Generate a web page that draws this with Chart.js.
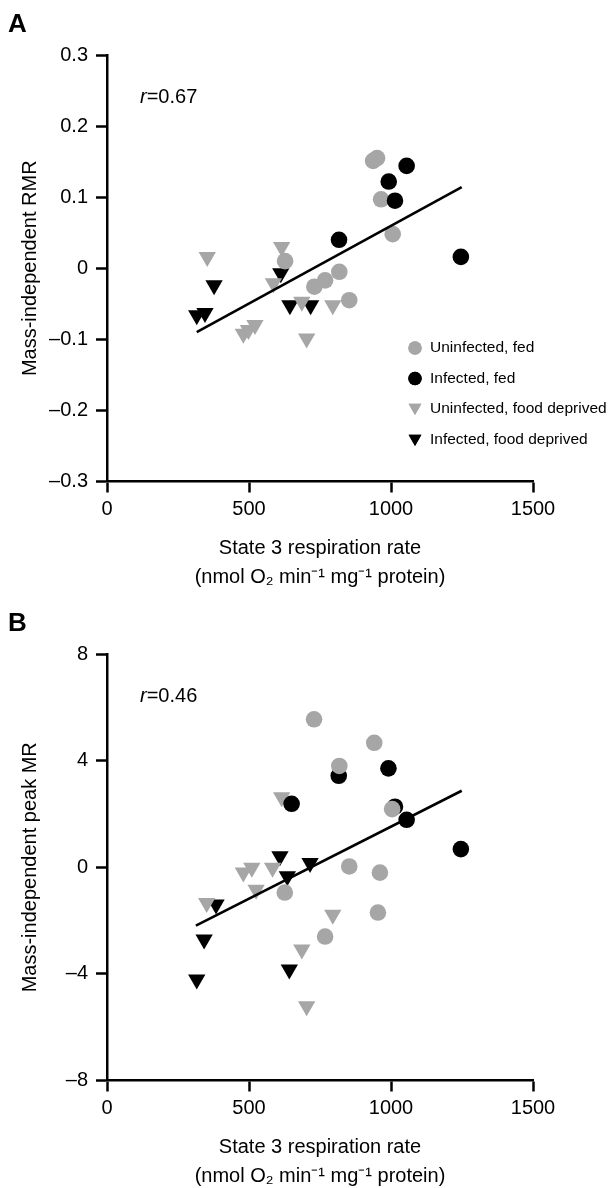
<!DOCTYPE html>
<html>
<head>
<meta charset="utf-8">
<script src="https://cdn.jsdelivr.net/npm/chart.js@4.4.1/dist/chart.umd.min.js"></script>
<style>
  html, body { margin: 0; padding: 0; background: #ffffff; }
  #wrap { position: relative; width: 613px; height: 1188px; overflow: hidden; }
  .panel { position: absolute; left: 0; width: 613px; height: 600px; }
</style>
</head>
<body>
<div id="wrap">
  <div class="panel" style="top:0px"><canvas id="chartA" width="613" height="600"></canvas></div>
  <div class="panel" style="top:599px"><canvas id="chartB" width="613" height="600"></canvas></div>
</div>
<script>
// ---------- Data ----------
const seriesNames = ['Uninfected, fed', 'Infected, fed', 'Uninfected, food deprived', 'Infected, food deprived'];

const xTicks = [0, 500, 1000, 1500];
const yTicksA = [-0.3, -0.2, -0.1, 0, 0.1, 0.2, 0.3];
const yTicksB = [-8, -4, 0, 4, 8];

const xTitle = ['State 3 respiration rate', '(nmol O\u2082 min\u207B\u00B9 mg\u207B\u00B9 protein)'];
const yTitleA = 'Mass-independent RMR';
const yTitleB = 'Mass-independent peak MR';
const rA = '0.67';
const rB = '0.46';

// Panel A
const aUninfFedX = [937, 951, 965, 1006, 627, 818, 768, 730, 853];
const aUninfFedY = [0.151, 0.155, 0.097, 0.048, 0.010, -0.005, -0.017, -0.026, -0.045];
const aInfFedX = [1055, 992, 1014, 817, 1246];
const aInfFedY = [0.144, 0.122, 0.095, 0.040, 0.016];
const aUninfFdX = [353, 615, 586, 686, 795, 521, 498, 480, 703];
const aUninfFdY = [0.016, 0.030, -0.021, -0.047, -0.052, -0.080, -0.087, -0.092, -0.099];
const aInfFdX = [316, 345, 377, 612, 644, 717];
const aInfFdY = [-0.066, -0.063, -0.024, -0.007, -0.052, -0.052];
const aFitX = [316, 1249];
const aFitY = [-0.090, 0.114];

// Panel B
const bUninfFedX = [729, 941, 818, 1004, 853, 961, 626, 954, 768];
const bUninfFedY = [5.55, 4.67, 3.80, 2.18, 0.03, -0.20, -0.95, -1.70, -2.60];
const bInfFedX = [991, 816, 650, 1014, 1055, 1246];
const bInfFedY = [3.71, 3.43, 2.38, 2.27, 1.78, 0.68];
const bUninfFdX = [615, 480, 510, 583, 525, 351, 795, 686, 703];
const bUninfFdY = [2.63, -0.20, -0.02, -0.02, -0.84, -1.34, -1.78, -3.09, -5.21];
const bInfFdX = [609, 635, 715, 384, 342, 316, 642];
const bInfFdY = [0.41, -0.34, 0.16, -1.40, -2.71, -4.21, -3.84];
const bFitX = [313, 1249];
const bFitY = [-2.19, 2.87];

// ---------- Styling ----------
const GRAY = '#a6a6a6';
const BLACK = '#000000';
const FONT = "'Liberation Sans', Arial, Helvetica, sans-serif";
Chart.defaults.font.family = FONT;
Chart.defaults.color = '#000';

const pts = (xs, ys) => xs.map((x, i) => ({ x: x, y: ys[i] }));
const fmt = v => {
  const r = Math.round(v * 1000) / 1000;
  if (r === 0) return '0';
  const s = String(Math.abs(r));
  return r < 0 ? '\u2013' + s : s;
};

const markerStyles = [
  { color: GRAY, style: 'circle', rot: 0 },
  { color: BLACK, style: 'circle', rot: 0 },
  { color: GRAY, style: 'triangle', rot: 180 },
  { color: BLACK, style: 'triangle', rot: 180 }
];

const panelTextPlugin = {
  id: 'panelText',
  afterDraw(chart, args, opts) {
    const ctx = chart.ctx;
    ctx.save();
    ctx.fillStyle = '#000';
    // panel letter
    ctx.font = 'bold 26px ' + FONT;
    ctx.textAlign = 'left';
    ctx.textBaseline = 'middle';
    ctx.fillText(opts.letter, 8, 25);
    // r annotation
    ctx.font = 'italic 20px ' + FONT;
    ctx.fillText('r', 140, 97);
    const w = ctx.measureText('r').width;
    ctx.font = '20px ' + FONT;
    ctx.fillText('=' + opts.r, 140 + w, 97);
    // legend
    if (opts.legend) {
      const rowsY = [348, 378.5, 409, 440];
      seriesNames.forEach((name, i) => {
        const m = markerStyles[i];
        ctx.fillStyle = m.color;
        Chart.helpers.drawPoint(ctx, {
          pointStyle: m.style,
          rotation: m.rot,
          radius: m.style === 'circle' ? 6.7 : 7.4,
          borderWidth: 0
        }, 415, rowsY[i] + (m.style === 'triangle' ? -1.5 : 0));
        ctx.fill();
        ctx.fillStyle = '#000';
        ctx.font = '15.5px ' + FONT;
        ctx.textAlign = 'left';
        ctx.textBaseline = 'middle';
        ctx.fillText(name, 430, rowsY[i]);
      });
    }
    ctx.restore();
  }
};

function makeChart(id, cfg) {
  const scatterSet = (label, data, mi, order) => ({
    label: label,
    data: data,
    pointStyle: markerStyles[mi].style,
    rotation: markerStyles[mi].rot,
    pointRadius: markerStyles[mi].style === 'circle' ? 8.3 : 10,
    pointBackgroundColor: markerStyles[mi].color,
    pointBorderWidth: 0,
    pointBorderColor: markerStyles[mi].color,
    showLine: false,
    order: order
  });
  const datasets = [
    {
      label: 'fit',
      data: pts(cfg.fitX, cfg.fitY),
      showLine: true,
      borderColor: BLACK,
      borderWidth: 2.6,
      pointRadius: 0,
      fill: false,
      order: 0
    },
    scatterSet(seriesNames[0], pts(cfg.s[0][0], cfg.s[0][1]), 0, cfg.grayCircleOrder),
    scatterSet(seriesNames[1], pts(cfg.s[1][0], cfg.s[1][1]), 1, cfg.blackCircleOrder),
    scatterSet(seriesNames[2], pts(cfg.s[2][0], cfg.s[2][1]), 2, 3),
    scatterSet(seriesNames[3], pts(cfg.s[3][0], cfg.s[3][1]), 3, 4)
  ];
  const axisCommon = {
    border: { display: true, color: BLACK, width: 2.5 },
    grid: { display: true, drawOnChartArea: false, drawTicks: true, tickLength: 11, tickWidth: 2.5, tickColor: BLACK }
  };
  return new Chart(document.getElementById(id), {
    type: 'scatter',
    data: { datasets: datasets },
    options: {
      responsive: false,
      animation: false,
      events: [],
      layout: { padding: { top: 55, right: 80, bottom: 8.5, left: 0 } },
      plugins: {
        legend: { display: false },
        tooltip: { enabled: false },
        panelText: { letter: cfg.letter, r: cfg.r, legend: cfg.legend }
      },
      scales: {
        x: Object.assign({}, axisCommon, {
          type: 'linear',
          min: xTicks[0],
          max: xTicks[xTicks.length - 1],
          afterBuildTicks: s => { s.ticks = xTicks.map(v => ({ value: v })); },
          afterFit: s => { s.height = 110; },
          ticks: { font: { size: 20 }, color: BLACK, padding: 5, maxRotation: 0, autoSkip: false, callback: v => fmt(v) },
          title: { display: true, text: xTitle, font: { size: 20, lineHeight: 1.45 }, color: BLACK, padding: { top: 0, bottom: 0 } }
        }),
        y: Object.assign({}, axisCommon, {
          type: 'linear',
          min: cfg.yTicks[0],
          max: cfg.yTicks[cfg.yTicks.length - 1],
          afterBuildTicks: s => { s.ticks = cfg.yTicks.map(v => ({ value: v })); },
          afterFit: s => { s.width = 107; },
          ticks: { font: { size: 20 }, color: BLACK, padding: 8, autoSkip: false, callback: v => fmt(v) },
          title: { display: true, text: cfg.yTitle, font: { size: 20, lineHeight: 1.2 }, color: BLACK, padding: { top: 18, bottom: 0 } }
        })
      }
    },
    plugins: [panelTextPlugin]
  });
}

makeChart('chartA', {
  letter: 'A', r: rA, legend: true, yTicks: yTicksA, yTitle: yTitleA,
  fitX: aFitX, fitY: aFitY,
  grayCircleOrder: 2, blackCircleOrder: 1,
  s: [[aUninfFedX, aUninfFedY], [aInfFedX, aInfFedY], [aUninfFdX, aUninfFdY], [aInfFdX, aInfFdY]]
});
makeChart('chartB', {
  letter: 'B', r: rB, legend: false, yTicks: yTicksB, yTitle: yTitleB,
  fitX: bFitX, fitY: bFitY,
  grayCircleOrder: 1, blackCircleOrder: 2,
  s: [[bUninfFedX, bUninfFedY], [bInfFedX, bInfFedY], [bUninfFdX, bUninfFdY], [bInfFdX, bInfFdY]]
});
</script>
</body>
</html>
